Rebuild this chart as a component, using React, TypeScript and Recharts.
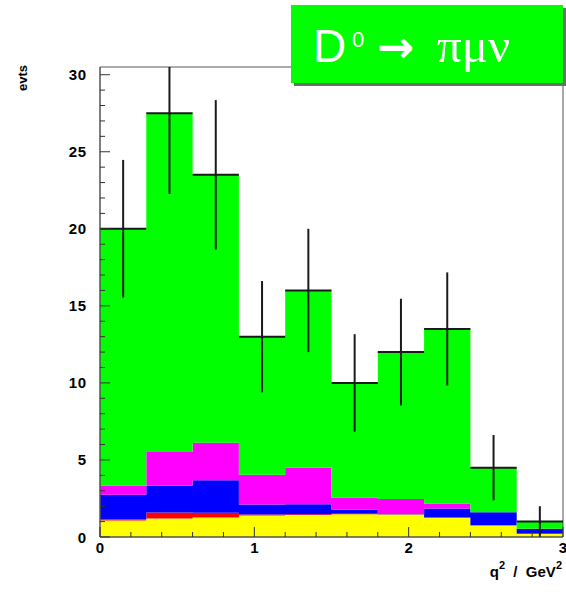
import { ComposedChart, Area, XAxis, YAxis, ReferenceArea, ReferenceLine } from 'recharts';

// histogram binning (q^2 in GeV^2)
const BIN_EDGES = [0, 0.3, 0.6, 0.9, 1.2, 1.5, 1.8, 2.1, 2.4, 2.7, 3.0];
const BIN_CENTERS = [0.15, 0.45, 0.75, 1.05, 1.35, 1.65, 1.95, 2.25, 2.55, 2.85];
const HALF_BIN = 0.15;

// stacked components, bottom to top
const YELLOW = [1.07, 1.2, 1.27, 1.4, 1.42, 1.48, 1.46, 1.25, 0.75, 0.2];
const RED = [0.09, 0.39, 0.3, 0.06, 0.05, 0.03, 0.02, 0.02, 0.02, 0.05];
const BLUE = [1.58, 1.73, 2.12, 0.65, 0.66, 0.26, 0.02, 0.58, 0.84, 0.28];
const MAGENTA = [0.58, 2.19, 2.43, 1.93, 2.38, 0.78, 0.96, 0.31, 0, 0];
const GREEN = [16.68, 21.99, 17.38, 8.96, 11.49, 7.45, 9.54, 11.34, 2.89, 0.47];

// data points
const TOTAL = [20, 27.5, 23.5, 13, 16, 10, 12, 13.5, 4.5, 1];
const ERR = [4.47, 5.24, 4.85, 3.61, 4.0, 3.16, 3.46, 3.67, 2.12, 1.0];

const X_TICKS = [0, 0.2, 0.4, 0.6, 0.8, 1, 1.2, 1.4, 1.6, 1.8, 2, 2.2, 2.4, 2.6, 2.8, 3];
const X_LABELS = [0, 1, 2, 3];
const Y_TICKS = [0, 1, 2, 3, 4, 5, 6, 7, 8, 9, 10, 11, 12, 13, 14, 15, 16, 17, 18, 19, 20, 21, 22, 23, 24, 25, 26, 27, 28, 29, 30];
const Y_LABELS = [0, 5, 10, 15, 20, 25, 30];
const Y_MAX = 30.5;

const stackData = BIN_EDGES.map((x, i) => {
  const j = Math.min(i, YELLOW.length - 1);
  return { x, yellow: YELLOW[j], red: RED[j], blue: BLUE[j], magenta: MAGENTA[j], green: GREEN[j] };
});

const FONT = '"Liberation Sans", Arial, Helvetica, sans-serif';
const ERR_COLOR = '#1a1a1a';

const XTick = (props: any) => {
  const { x, y, payload } = props;
  const major = X_LABELS.includes(payload.value);
  return (
    <g>
      <line x1={x} x2={x} y1={y} y2={y - (major ? 10 : 5)} stroke="#333" />
      {major && (
        <text x={x} y={y + 16} textAnchor="middle" fontFamily={FONT} fontWeight="bold" fontSize={15} fill="#000">
          {payload.value}
        </text>
      )}
    </g>
  );
};

const YTick = (props: any) => {
  const { x, y, payload } = props;
  const major = Y_LABELS.includes(payload.value);
  return (
    <g>
      <line x1={x} x2={x + (major ? 10 : 5)} y1={y} y2={y} stroke="#333" />
      {major && (
        <text x={x - 13} y={y + 5.5} textAnchor="end" fontFamily={FONT} fontWeight="bold" fontSize={15} letterSpacing={0.8} fill="#000">
          {payload.value}
        </text>
      )}
    </g>
  );
};

export default function App() {
  return (
    <div style={{ position: 'absolute', left: 0, top: 0, width: 566, height: 592 }}>
      <ComposedChart width={566} height={592} data={stackData} margin={{ top: 67, right: 3, left: 40, bottom: 25 }}>
        <Area type="stepAfter" dataKey="yellow" stackId="s" stroke="none" fill="#ffff00" fillOpacity={1} isAnimationActive={false} />
        <Area type="stepAfter" dataKey="red" stackId="s" stroke="none" fill="#ff0000" fillOpacity={1} isAnimationActive={false} />
        <Area type="stepAfter" dataKey="blue" stackId="s" stroke="none" fill="#0000ff" fillOpacity={1} isAnimationActive={false} />
        <Area type="stepAfter" dataKey="magenta" stackId="s" stroke="none" fill="#ff00ff" fillOpacity={1} isAnimationActive={false} />
        <Area type="stepAfter" dataKey="green" stackId="s" stroke="none" fill="#00ff00" fillOpacity={1} isAnimationActive={false} />
        {BIN_CENTERS.map((c, i) => (
          <ReferenceLine
            key={`h${i}`}
            segment={[{ x: c - HALF_BIN, y: TOTAL[i] }, { x: c + HALF_BIN, y: TOTAL[i] }]}
            stroke={ERR_COLOR}
            strokeWidth={2}
            ifOverflow="hidden"
          />
        ))}
        {BIN_CENTERS.map((c, i) => (
          <ReferenceLine
            key={`v${i}`}
            segment={[{ x: c, y: TOTAL[i] - ERR[i] }, { x: c, y: TOTAL[i] + ERR[i] }]}
            stroke={ERR_COLOR}
            strokeWidth={2}
            ifOverflow="hidden"
          />
        ))}
        <XAxis
          dataKey="x"
          type="number"
          domain={[0, 3]}
          ticks={X_TICKS}
          interval={0}
          tickSize={0}
          tickMargin={0}
          tickLine={false}
          tick={<XTick />}
          axisLine={{ stroke: '#555' }}
          height={30}
          label={{
            content: () => (
              <text x={562} y={577} textAnchor="end" fontFamily={FONT} fontWeight="bold" fontSize={15} fill="#000">
                q<tspan fontSize={11} dy={-8}>2</tspan>
                <tspan dy={8}>{'\u00a0\u00a0/\u00a0\u00a0GeV'}</tspan>
                <tspan fontSize={11} dy={-8}>2</tspan>
              </text>
            ),
          }}
        />
        <YAxis
          type="number"
          domain={[0, Y_MAX]}
          allowDataOverflow
          ticks={Y_TICKS}
          interval={0}
          tickSize={0}
          tickMargin={0}
          tickLine={false}
          tick={<YTick />}
          axisLine={{ stroke: '#555' }}
          width={60}
          label={{
            content: () => (
              <text x={27} y={65} transform="rotate(-90 27 65)" textAnchor="end" fontFamily={FONT} fontWeight="bold" fontSize={13} fill="#000">
                evts
              </text>
            ),
          }}
        />
        <ReferenceArea x1={0} x2={3} y1={0} y2={Y_MAX} fill="none" stroke="#555" strokeWidth={1} ifOverflow="visible" />
      </ComposedChart>
      <div
        style={{
          position: 'absolute',
          left: 291,
          top: 5,
          width: 272,
          height: 78,
          background: '#00ff00',
          boxShadow: '3px 3px 0 #6e6e6e',
        }}
      >
        <svg width={272} height={78} style={{ display: 'block' }}>
          <text x={22} y={57} fontFamily={FONT} fontSize={46} fill="#fff">D</text>
          <text x={61} y={42} fontFamily={FONT} fontSize={22} fill="#fff">0</text>
          <text x={86} y={57} fontFamily='"DejaVu Sans", sans-serif' fontWeight="bold" fontSize={44} fill="#fff">→</text>
          <text x={146} y={57} fontFamily='"Liberation Serif", "DejaVu Serif", serif' fontSize={48} fill="#fff" textLength={73} lengthAdjust="spacingAndGlyphs">πμν</text>
        </svg>
      </div>
    </div>
  );
}
